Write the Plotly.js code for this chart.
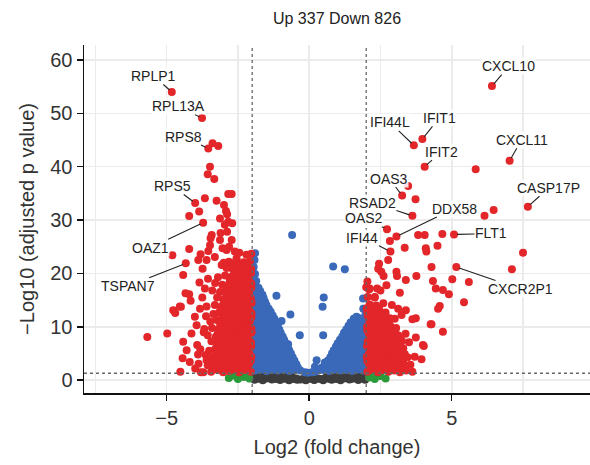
<!DOCTYPE html>
<html>
<head>
<meta charset="utf-8">
<script src="https://cdn.plot.ly/plotly-3.0.1.min.js"></script>
<style>html,body{margin:0;padding:0;background:#fff;}#chart{width:590px;height:465px;}</style>
</head>
<body>
<div id="chart"></div>
<script>
// ---------------- DATA ----------------
const chartTitle = "Up 337 Down 826";
const xTitle = "Log2 (fold change)";
const yTitle = "\u2212Log10 (adjusted p value)";
const fcCut = 2;          // |log2 FC| threshold
const pCut = 1.3;         // -log10(0.05)

// down-regulated genes (red, left)
const downGenes = [
 [-4.82,54.0],[-3.76,49.1],[-3.54,43.4],[-3.39,44.4],[-3.19,43.9],[-3.48,40.0],[-3.56,38.6],[-3.33,37.7],
 [-2.84,34.9],[-2.72,34.9],[-4.0,33.2],[-3.66,34.1],[-3.25,33.6],[-2.99,32.8],[-2.92,31.7],[-2.88,31.1],
 [-3.86,31.6],[-4.21,30.75],[-3.13,30.3],[-2.84,29.7],[-2.7,29.4],[-3.72,29.5],[-2.96,29.1],[-3.11,27.6],
 [-3.42,27.2],[-2.88,27.8],[-3.13,26.25],[-3.46,26.6],[-2.72,26.25],[-3.48,25.3],[-2.81,25.0],[-2.61,24.1],
 [-2.9,24.4],[-3.04,24.7],[-2.55,22.8],[-4.21,24.6],[-4.8,23.4],[-3.81,23.6],[-3.54,24.2],[-3.89,22.5],
 [-3.6,22.5],[-3.74,20.9],[-4.33,21.9],[-3.31,23.1],[-3.07,21.6],[-2.78,21.9],[-4.42,19.7],[-3.66,17.2],
 [-4.21,16.1],[-4.34,16.3],[-4.16,14.9],[-4.5,13.75],[-4.77,13.1],[-4.7,12.6],[-4.54,13.8],[-3.83,13.4],
 [-4.01,11.9],[-3.95,10.3],[-4.13,8.75],[-4.42,7.2],[-3.93,6.6],[-4.3,5.6],[-4.44,4.1],[-4.19,3.4],
 [-3.6,3.75],[-4.52,1.6],[-4.98,8.75],[-5.68,8.1],[-4.0,2.2],[-3.8,1.5],[-3.9,4.8],[-3.7,9.0],
 [-3.75,15.5],[-3.55,19.0],[-3.62,12.0],[-3.85,18.3],
 [-2.05,1.6],[-2.24,1.9],[-2.46,1.5],[-2.63,2.0],[-2.81,1.7],[-3.02,1.5],[-3.21,1.9],[-3.44,1.6],[-3.71,1.5],
 [-2.14,2.3],[-2.35,2.4],[-2.55,2.2],[-2.74,2.4],[-2.93,2.3],[-3.12,2.4],[-3.32,2.2],
 [-2.12,3.0],[-2.31,2.7],[-2.52,3.2],[-2.7,2.8],[-2.9,3.1],[-3.1,2.9],[-3.33,3.2],[-3.56,2.8],[-3.88,3.1],
 [-2.05,3.6],[-2.25,3.7],[-2.45,3.5],[-2.65,3.7],[-2.85,3.6],[-3.05,3.7],[-3.25,3.5],[-3.48,3.7],
 [-2.03,4.4],[-2.21,4.2],[-2.4,4.6],[-2.59,4.1],[-2.78,4.5],[-2.96,4.2],[-3.16,4.6],[-3.38,4.3],[-3.63,4.7],
 [-2.1,5.0],[-2.3,5.1],[-2.48,4.9],[-2.68,5.1],[-2.87,5.0],[-3.06,5.1],[-3.26,4.9],
 [-2.13,5.7],[-2.33,5.5],[-2.51,5.9],[-2.72,5.6],[-2.91,5.8],[-3.09,5.4],[-3.29,5.9],[-3.51,5.5],[-3.82,5.8],
 [-2.04,6.3],[-2.24,6.4],[-2.44,6.2],[-2.64,6.4],[-2.84,6.3],[-3.04,6.4],[-3.24,6.2],
 [-2.04,7.0],[-2.23,7.2],[-2.42,6.9],[-2.61,7.3],[-2.82,7.0],[-3.0,7.2],[-3.2,6.9],[-3.43,7.3],
 [-2.12,7.7],[-2.33,7.8],[-2.52,7.6],[-2.72,7.8],[-2.92,7.7],[-3.12,7.8],
 [-2.1,8.3],[-2.29,8.6],[-2.5,8.2],[-2.68,8.5],[-2.87,8.3],[-3.07,8.6],[-3.27,8.2],[-3.56,8.4],
 [-2.02,9.0],[-2.2,9.1],[-2.4,8.9],[-2.6,9.1],[-2.8,9.0],[-3.0,9.1],[-3.2,8.9],
 [-2.03,9.7],[-2.21,9.9],[-2.41,9.6],[-2.6,10.0],[-2.79,9.7],[-2.98,9.9],[-3.18,9.6],[-3.41,9.8],[-3.68,9.6],
 [-2.13,10.4],[-2.32,10.5],[-2.52,10.3],[-2.72,10.5],[-2.92,10.4],[-3.12,10.5],
 [-2.08,11.1],[-2.28,10.9],[-2.47,11.3],[-2.66,11.0],[-2.86,11.2],[-3.05,10.9],[-3.24,11.3],[-3.47,11.0],
 [-2.03,11.8],[-2.22,11.9],[-2.42,11.7],[-2.62,11.9],[-2.82,11.8],[-3.02,11.9],
 [-2.02,12.5],[-2.19,12.3],[-2.38,12.7],[-2.58,12.4],[-2.77,12.6],[-2.96,12.3],[-3.16,12.7],[-3.36,12.4],
 [-2.1,13.1],[-2.3,13.2],[-2.5,13.0],[-2.7,13.2],[-2.88,13.1],[-3.08,13.2],
 [-2.1,13.9],[-2.3,13.7],[-2.49,14.1],[-2.7,13.8],[-2.9,14.0],[-3.11,13.7],[-3.31,14.1],[-3.6,13.8],
 [-2.02,14.5],[-2.2,14.6],[-2.4,14.4],[-2.6,14.6],[-2.8,14.5],[-3.0,14.6],
 [-2.05,15.3],[-2.23,15.1],[-2.42,15.5],[-2.62,15.2],[-2.81,15.4],[-3.0,15.1],[-3.23,15.5],
 [-2.1,15.9],[-2.3,16.0],[-2.5,15.8],[-2.7,16.0],[-2.9,15.9],
 [-2.12,16.7],[-2.31,16.5],[-2.52,16.9],[-2.73,16.6],[-2.92,16.8],[-3.13,16.5],[-3.4,16.8],
 [-2.03,17.3],[-2.22,17.4],[-2.42,17.2],[-2.62,17.4],[-2.84,17.3],
 [-2.03,18.1],[-2.2,17.9],[-2.4,18.3],[-2.61,18.0],[-2.8,18.2],[-3.05,17.9],[-3.3,18.2],
 [-2.12,18.7],[-2.32,18.8],[-2.55,18.6],[-2.78,18.8],
 [-2.1,19.5],[-2.3,19.3],[-2.5,19.7],[-2.72,19.4],[-2.95,19.6],[-3.2,19.3],
 [-2.04,20.1],[-2.22,20.2],[-2.42,20.0],[-2.62,20.2],
 [-2.04,20.9],[-2.24,20.7],[-2.45,21.1],[-2.68,20.8],[-2.9,21.0],
 [-2.12,21.5],[-2.35,21.6],[-2.6,21.4],
 [-2.08,22.3],[-2.3,22.1],[-2.55,22.5],[-2.82,22.2],[-3.0,22.0],
 [-2.03,23.7],[-2.2,23.5],[-2.45,23.9]
];

// up-regulated genes (red, right)
const upGenes = [
 [6.41,55.1],[3.97,45.2],[3.67,44.0],[4.05,40.0],[7.03,41.1],[5.84,39.5],[3.26,34.6],[3.47,36.4],
 [3.73,33.9],[3.62,30.8],[7.67,32.5],[6.15,30.8],[6.47,31.9],[2.73,28.3],[3.06,26.9],[2.85,24.1],
 [5.08,27.3],[5.16,21.2],[7.5,23.9],[7.11,20.8],[4.67,27.4],[4.05,27.2],[3.82,27.2],[4.09,24.7],
 [4.11,24.1],[4.5,25.2],[3.35,24.8],[2.83,26.1],[2.77,22.5],[4.29,21.2],[5.02,18.9],[5.6,18.4],
 [5.43,14.6],[3.76,19.5],[3.39,18.75],[3.08,19.5],[3.06,20.3],[4.34,18.6],[4.44,17.2],[4.69,16.9],
 [4.9,16.1],[3.18,16.4],[4.52,13.4],[4.58,13.9],[4.29,10.5],[4.69,9.06],[3.74,11.6],[3.62,11.4],
 [4.02,6.4],[3.7,4.4],[3.94,3.9],[3.74,8.0],[3.39,13.1],[3.12,13.4],[3.24,12.2],[2.83,11.6],
 [2.42,20.9],[2.53,20.3],[2.61,19.5],[2.38,17.2],[2.0,17.4],[2.24,13.4],[2.06,12.5],[2.3,11.6],
 [2.71,17.8],[2.3,15.6],[2.12,17.2],[2.45,21.8],[3.99,6.6],[4.26,10.5],
 [2.04,1.6],[2.22,1.9],[2.41,1.5],[2.6,1.9],[2.78,1.6],[2.98,1.8],[3.18,1.5],[3.4,1.8],[3.62,1.6],
 [2.12,2.3],[2.32,2.4],[2.52,2.2],[2.72,2.4],[2.92,2.3],[3.12,2.4],[3.32,2.2],
 [2.1,3.0],[2.3,2.8],[2.5,3.2],[2.7,2.9],[2.9,3.1],[3.1,2.8],[3.3,3.2],[3.55,2.9],
 [2.04,3.6],[2.22,3.7],[2.42,3.5],[2.62,3.7],[2.82,3.6],[3.02,3.7],[3.22,3.5],
 [2.02,4.4],[2.2,4.2],[2.4,4.6],[2.58,4.3],[2.8,4.5],[3.0,4.2],[3.2,4.6],[3.45,4.3],
 [2.1,5.0],[2.3,5.1],[2.5,4.9],[2.7,5.1],[2.9,5.0],[3.1,5.1],[3.35,4.9],
 [2.12,5.8],[2.32,5.6],[2.52,6.0],[2.72,5.7],[2.9,5.9],[3.1,5.6],[3.3,6.0],
 [2.03,6.4],[2.22,6.5],[2.42,6.3],[2.62,6.5],[2.82,6.4],[3.02,6.5],[3.2,6.3],
 [2.05,7.2],[2.22,7.0],[2.42,7.4],[2.62,7.1],[2.82,7.3],[3.02,7.0],[3.25,7.4],[3.5,7.1],
 [2.12,7.9],[2.32,8.0],[2.52,7.8],[2.72,8.0],[2.92,7.9],[3.15,8.0],
 [2.1,8.6],[2.3,8.4],[2.5,8.8],[2.7,8.5],[2.9,8.7],[3.12,8.4],[3.38,8.7],
 [2.04,9.3],[2.22,9.4],[2.42,9.2],[2.62,9.4],[2.8,9.3],[3.0,9.4],
 [2.03,10.0],[2.2,9.8],[2.42,10.2],[2.62,9.9],[2.85,10.1],[3.05,9.8],
 [2.12,10.7],[2.32,10.8],[2.55,10.6],[2.8,10.8],
 [2.1,11.4],[2.3,11.2],[2.52,11.6],[2.75,11.3],[3.0,11.5],
 [2.05,12.1],[2.25,12.2],[2.45,12.0],[2.65,12.2],
 [2.04,12.8],[2.24,12.6],[2.45,13.0],[2.68,12.7],
 [2.02,13.5],[2.22,13.6],[2.45,13.4],
 [2.12,14.2],[2.35,14.0],[2.6,14.4],[2.9,14.1],
 [2.05,15.6],[2.3,15.5],[2.1,17.0],[2.5,16.8],[2.04,18.5]
];

// significant, small fold change (blue)
const sigSmallFC = [
 [-0.6,27.2],[0.84,21.3],[1.25,20.8],[-1.15,15.8],[0.51,15.5],[0.47,13.75],[-0.66,12.3],[-0.97,11.1],
 [-0.33,8.4],[0.49,8.4],[-0.74,6.75],[0.26,3.75],[0.55,3.3],[0.2,2.5],[1.66,11.9],[1.89,15.3],[1.91,13.4],
 [-0.15,1.5],[-0.05,1.4],[0.1,1.5],[0.2,1.6],
 [-0.31,1.8],[-0.5,1.9],[-0.7,1.7],[-0.9,2.0],[-1.1,1.8],[-1.3,1.9],[-1.5,1.7],[-1.7,2.0],[-1.9,1.8],
 [-0.4,2.4],[-0.6,2.5],[-0.8,2.3],[-1.0,2.5],[-1.2,2.4],[-1.4,2.5],[-1.6,2.3],[-1.8,2.5],
 [-0.45,3.0],[-0.62,3.2],[-0.8,2.9],[-1.0,3.1],[-1.2,3.0],[-1.4,3.2],[-1.6,2.9],[-1.8,3.1],[-1.96,3.0],
 [-0.52,3.7],[-0.7,3.8],[-0.88,3.6],[-1.06,3.8],[-1.26,3.7],[-1.46,3.8],[-1.66,3.6],[-1.86,3.8],
 [-0.58,4.3],[-0.76,4.5],[-0.95,4.2],[-1.15,4.4],[-1.35,4.3],[-1.55,4.5],[-1.75,4.2],[-1.93,4.4],
 [-0.64,5.0],[-0.82,5.1],[-1.0,4.9],[-1.2,5.1],[-1.4,5.0],[-1.6,5.1],[-1.8,4.9],[-1.97,5.1],
 [-0.7,5.6],[-0.88,5.8],[-1.08,5.5],[-1.28,5.7],[-1.48,5.6],[-1.68,5.8],[-1.88,5.5],
 [-0.76,6.3],[-0.94,6.4],[-1.14,6.2],[-1.34,6.4],[-1.54,6.3],[-1.74,6.4],[-1.92,6.2],
 [-0.82,6.9],[-1.0,7.1],[-1.2,6.8],[-1.4,7.0],[-1.6,6.9],[-1.8,7.1],[-1.97,6.8],
 [-0.88,7.6],[-1.06,7.7],[-1.26,7.5],[-1.46,7.7],[-1.66,7.6],[-1.86,7.7],
 [-0.93,8.2],[-1.12,8.4],[-1.32,8.1],[-1.52,8.3],[-1.72,8.2],[-1.92,8.4],
 [-1.0,8.9],[-1.18,9.0],[-1.38,8.8],[-1.58,9.0],[-1.78,8.9],[-1.96,9.0],
 [-1.05,9.5],[-1.25,9.7],[-1.45,9.4],[-1.65,9.6],[-1.85,9.5],
 [-1.1,10.2],[-1.3,10.3],[-1.5,10.1],[-1.7,10.3],[-1.9,10.2],
 [-1.15,10.8],[-1.35,11.0],[-1.55,10.7],[-1.75,10.9],[-1.95,10.8],
 [-1.22,11.5],[-1.42,11.6],[-1.62,11.4],[-1.82,11.6],
 [-1.28,12.1],[-1.48,12.3],[-1.68,12.0],[-1.88,12.2],
 [-1.35,12.8],[-1.55,12.9],[-1.75,12.7],[-1.92,12.9],
 [-1.42,13.4],[-1.62,13.6],[-1.82,13.3],[-1.97,13.5],
 [-1.5,14.1],[-1.7,14.2],[-1.88,14.0],
 [-1.55,14.7],[-1.75,14.9],[-1.93,14.6],
 [-1.6,15.4],[-1.78,15.5],[-1.95,15.3],
 [-1.64,16.0],[-1.82,16.2],[-1.96,15.9],
 [-1.72,16.7],[-1.9,16.8],
 [-1.78,17.3],[-1.94,17.5],[-1.86,18.6],[-1.97,18.8],[-1.9,19.9],[-1.95,21.2],[-1.92,22.5],[-1.9,23.8],
 [0.32,1.8],[0.5,1.9],[0.7,1.7],[0.9,2.0],[1.1,1.8],[1.3,1.9],[1.5,1.7],[1.7,2.0],[1.9,1.8],
 [0.45,2.4],[0.62,2.5],[0.8,2.3],[1.0,2.5],[1.2,2.4],[1.4,2.5],[1.6,2.3],[1.8,2.5],[1.97,2.4],
 [0.57,3.0],[0.72,3.2],[0.9,2.9],[1.1,3.1],[1.3,3.0],[1.5,3.2],[1.7,2.9],[1.88,3.1],
 [0.66,3.7],[0.82,3.8],[1.0,3.6],[1.2,3.8],[1.4,3.7],[1.6,3.8],[1.8,3.6],[1.96,3.8],
 [0.74,4.3],[0.9,4.5],[1.08,4.2],[1.28,4.4],[1.48,4.3],[1.68,4.5],[1.88,4.2],
 [0.8,5.0],[0.96,5.1],[1.16,4.9],[1.36,5.1],[1.56,5.0],[1.76,5.1],[1.94,4.9],
 [0.86,5.6],[1.02,5.8],[1.22,5.5],[1.42,5.7],[1.62,5.6],[1.82,5.8],[1.97,5.5],
 [0.94,6.3],[1.1,6.4],[1.3,6.2],[1.5,6.4],[1.7,6.3],[1.9,6.4],
 [1.0,6.9],[1.18,7.1],[1.38,6.8],[1.58,7.0],[1.78,6.9],[1.95,7.1],
 [1.08,7.6],[1.26,7.7],[1.46,7.5],[1.66,7.7],[1.86,7.6],
 [1.16,8.2],[1.33,8.4],[1.52,8.1],[1.72,8.3],[1.9,8.2],
 [1.22,8.9],[1.42,9.0],[1.62,8.8],[1.82,9.0],[1.97,8.9],
 [1.3,9.5],[1.5,9.7],[1.7,9.4],[1.88,9.6],
 [1.38,10.2],[1.58,10.3],[1.78,10.1],[1.95,10.3],
 [1.45,10.8],[1.65,11.0],[1.85,10.7],
 [1.56,11.5],[1.76,11.6],[1.94,11.4],
 [1.97,12.1],[1.9,13.4]
];

// not significant (dark grey)
const notSig = [
 [-1.92,0.1],[-1.63,0.0],[-1.31,0.15],[-1.02,0.05],[-0.71,0.0],[-0.42,0.1],[-0.12,0.0],[0.18,0.05],
 [0.49,0.0],[0.79,0.1],[1.1,0.0],[1.41,0.12],[1.72,0.02],[1.96,0.1],
 [-1.8,0.25],[-1.5,0.3],[-1.15,0.2],[-0.85,0.25],[-0.55,0.2],[-0.3,0.15],[-0.05,0.2],[0.15,0.15],
 [0.4,0.2],[0.68,0.25],[0.95,0.2],[1.22,0.3],[1.52,0.25],[1.85,0.3],
 [-1.95,0.5],[-1.7,0.45],[-1.46,0.55],[-1.2,0.4],[-0.95,0.45],[-0.7,0.35],[-0.45,0.3],[-0.2,0.25],
 [0.05,0.3],[0.3,0.3],[0.56,0.4],[0.8,0.45],[1.05,0.5],[1.3,0.45],[1.56,0.55],[1.8,0.5],
 [-1.75,0.7],[-1.4,0.75],[-1.05,0.65],[-0.75,0.55],[0.75,0.6],[1.1,0.7],[1.42,0.75],[1.75,0.7],
 [-1.86,0.9],[-1.56,0.85],[-1.24,0.8],[-0.9,0.7],[-0.6,0.6],[0.62,0.6],[0.95,0.7],[1.28,0.85],
 [1.6,0.9],[1.9,0.85],[-1.9,1.0],[-1.6,1.05],[-1.3,0.95],[1.35,1.0],[1.65,1.05],[1.9,1.0],
 [-1.96,1.2],[-1.71,1.15],[-1.42,1.1],[-1.12,1.0],[1.18,1.05],[1.5,1.15],
 [1.76,1.2],[1.97,1.25]
];

// large fold change, not significant (green)
const fcOnly = [
 [-2.1,0.3],[-2.3,0.6],[-2.5,0.2],[-2.66,0.9],[-2.2,1.0],[-2.82,0.4],[-2.42,1.1],
 [2.1,0.5],[2.3,0.2],[2.5,0.8],[2.68,0.3],[2.2,1.0]
];

// labelled genes
const labelGenes = ["RPLP1","RPL13A","RPS8","RPS5","OAZ1","TSPAN7","CXCL10","IFI44L","IFIT1","IFIT2",
                    "CXCL11","CASP17P","OAS3","RSAD2","OAS2","IFI44","DDX58","FLT1","CXCR2P1"];
const labelX = [-4.82,-3.76,-3.54,-4.0,-3.72,-4.33,6.41,3.67,3.97,4.05,7.03,7.67,3.26,3.62,2.73,2.85,3.06,5.08,5.16];
const labelY = [54.0,49.1,43.4,33.2,29.5,21.9,55.1,44.0,45.2,40.0,41.1,32.5,34.6,30.8,28.3,24.1,26.9,27.3,21.2];

// ---------------- STYLE / LAYOUT ----------------
const labelOffset = {
 RPLP1:[-18,-16], RPL13A:[-24,-12], RPS8:[-25,-12], RPS5:[-23,-17], OAZ1:[-53,25], TSPAN7:[-58,23],
 CXCL10:[17,-20], IFI44L:[-24,-23], IFIT1:[17,-21], IFIT2:[17,-15], CXCL11:[12,-21], CASP17P:[21,-19],
 OAS3:[-13,-17], RSAD2:[-40,-13], OAS2:[-23,-11], IFI44:[-28,-14], DDX58:[58,-28], FLT1:[37,-1], CXCR2P1:[64,22]
};

const FONT = "Liberation Sans, Arial, sans-serif";
function tr(pts, color, name){
  return {type:"scatter", mode:"markers", name:name,
    x: pts.map(p=>p[0]), y: pts.map(p=>p[1]),
    marker:{color:color, size:8, line:{width:0}}, hoverinfo:"skip", cliponaxis:true};
}
const data = [
  tr(notSig, "#3d3d3d", "NS"),
  tr(fcOnly, "#2b9a3a", "FC"),
  tr(sigSmallFC, "#3b69b9", "P"),
  tr(downGenes, "#e3262a", "Down"),
  tr(upGenes, "#e3262a", "Up")
];

const annotations = labelGenes.map((g,i)=>({
  x: labelX[i], y: labelY[i], xref:"x", yref:"y", text: g,
  showarrow:true, arrowhead:0, arrowwidth:1.1, arrowcolor:"#222", standoff:3,
  ax: labelOffset[g][0], ay: labelOffset[g][1],
  font:{family:FONT, size:14, color:"#222"}, bgcolor:"rgba(255,255,255,0.85)", borderpad:0
}));

const dot = {color:"#666", width:1.3, dash:"dot"};
const shapes = [
  {type:"line", xref:"x", yref:"paper", x0:-fcCut, x1:-fcCut, y0:0, y1:1, line:dot, layer:"above"},
  {type:"line", xref:"x", yref:"paper", x0:fcCut, x1:fcCut, y0:0, y1:1, line:dot, layer:"above"},
  {type:"line", xref:"paper", yref:"y", x0:0, x1:1, y0:pCut, y1:pCut, line:dot, layer:"above"}
];

const grid = "#ebebeb";
const layout = {
  width:590, height:465,
  margin:{l:84, r:0, t:45, b:72},
  paper_bgcolor:"#fff", plot_bgcolor:"#fff",
  showlegend:false,
  font:{family:FONT, color:"#222"},
  title:{text:chartTitle, font:{family:FONT, size:16, color:"#222"}, x:0.5, xref:"paper", y:1-18/465, yref:"container", yanchor:"middle"},
  xaxis:{range:[-7.9,9.85], tick0:0, dtick:5, showgrid:true, gridcolor:grid, gridwidth:1.6, zeroline:false,
    minor:{tick0:0, dtick:2.5, showgrid:true, gridcolor:grid, gridwidth:1.6, ticks:""},
    showline:true, linecolor:"#111", linewidth:1.5, ticks:"outside", ticklen:6, tickwidth:1.5, tickcolor:"#111",
    tickfont:{family:FONT, size:20, color:"#333"},
    title:{text:xTitle, font:{family:FONT, size:20, color:"#333"}, standoff:12}},
  yaxis:{range:[-2.4,62.8], tick0:0, dtick:10, showgrid:true, gridcolor:grid, gridwidth:1.6, zeroline:false,
    showline:true, linecolor:"#111", linewidth:1.5, ticks:"outside", ticklen:6, tickwidth:1.5, tickcolor:"#111",
    tickfont:{family:FONT, size:20, color:"#333"},
    title:{text:yTitle, font:{family:FONT, size:20, color:"#333"}, standoff:10}},
  annotations:annotations,
  shapes:shapes
};
Plotly.newPlot("chart", data, layout, {staticPlot:true, displayModeBar:false});
</script>
</body>
</html>
